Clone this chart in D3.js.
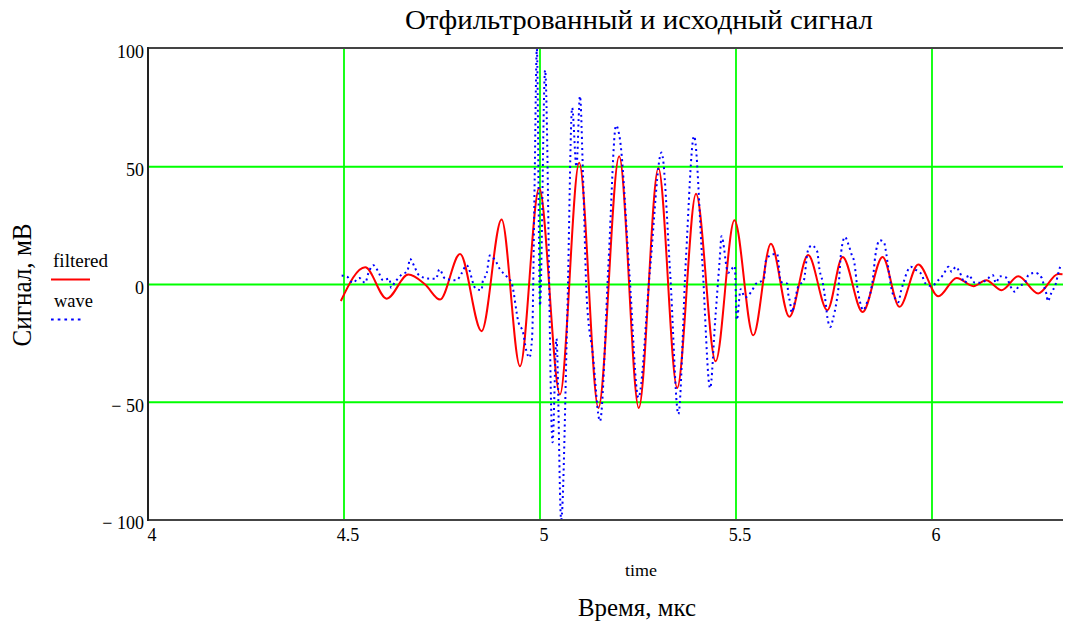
<!DOCTYPE html>
<html>
<head>
<meta charset="utf-8">
<script src="https://cdn.jsdelivr.net/npm/d3@7"></script>
<style>
  html, body { margin: 0; padding: 0; background: #fff; }
  svg { display: block; }
  text { font-family: "Liberation Serif", "Times New Roman", serif; fill: #000; }
</style>
</head>
<body>
<svg id="chart" width="1072" height="623"></svg>
<script>
// ---------- data ----------
const titleText = "Отфильтрованный и исходный сигнал";
const xTitle = "Время, мкс";
const xVarLabel = "time";
const yTitle = "Сигнал, мВ";
const legendNames = ["filtered", "wave"];
const xTicks = [4, 4.5, 5, 5.5, 6];
const yTicks = [-100, -50, 0, 50, 100];

// filtered signal: time (µs) and value (mV), read at extrema
const filteredT = [4.492, 4.554, 4.609, 4.664, 4.707, 4.745, 4.796, 4.851, 4.902, 4.949, 4.998, 5.051, 5.100, 5.149, 5.202, 5.252, 5.302, 5.350, 5.398, 5.448, 5.496, 5.544, 5.589, 5.636, 5.684, 5.733, 5.772, 5.823, 5.874, 5.917, 5.965, 6.016, 6.063, 6.106, 6.138, 6.178, 6.220, 6.271, 6.322, 6.333];
const filteredV = [-7, 7.3, -6, 4.2, 0, -6.4, 13, -19.8, 27.6, -34.7, 41, -46.7, 51.7, -52.4, 54.5, -52.4, 49.5, -43.9, 38.5, -32.6, 27.3, -21.6, 17.3, -13.7, 12.5, -10.9, 11.7, -11.7, 11.7, -9.5, 8.5, -5, 2.8, -0.7, 1.8, -2.4, 3.5, -3.8, 4.5, 4.4];

// original wave: time (µs) and value (mV)
const waveT = [4.494, 4.508, 4.522, 4.539, 4.554, 4.562, 4.575, 4.586, 4.600, 4.616, 4.620, 4.630, 4.647, 4.662, 4.668, 4.681, 4.690, 4.715, 4.735, 4.743, 4.758, 4.787, 4.800, 4.813, 4.836, 4.851, 4.854, 4.864, 4.872, 4.887, 4.898, 4.913, 4.928, 4.945, 4.957, 4.965, 4.973, 4.980, 4.986, 4.992, 5.000, 5.013, 5.032, 5.042, 5.054, 5.070, 5.082, 5.093, 5.102, 5.110, 5.119, 5.135, 5.153, 5.175, 5.194, 5.204, 5.228, 5.251, 5.280, 5.310, 5.332, 5.353, 5.372, 5.393, 5.414, 5.434, 5.447, 5.459, 5.463, 5.480, 5.497, 5.502, 5.512, 5.523, 5.540, 5.551, 5.571, 5.576, 5.591, 5.605, 5.614, 5.631, 5.633, 5.638, 5.642, 5.659, 5.673, 5.683, 5.693, 5.707, 5.713, 5.721, 5.730, 5.733, 5.741, 5.747, 5.757, 5.761, 5.768, 5.778, 5.786, 5.795, 5.802, 5.805, 5.808, 5.816, 5.825, 5.833, 5.842, 5.850, 5.855, 5.867, 5.878, 5.882, 5.889, 5.897, 5.908, 5.914, 5.921, 5.927, 5.946, 5.957, 5.974, 5.982, 5.999, 6.016, 6.029, 6.042, 6.050, 6.061, 6.070, 6.084, 6.093, 6.110, 6.122, 6.138, 6.155, 6.163, 6.173, 6.191, 6.199, 6.212, 6.220, 6.237, 6.246, 6.263, 6.280, 6.286, 6.293, 6.295, 6.305, 6.316, 6.322, 6.328];
const waveV = [3.8, 3.3, 0.7, 2.8, 0.7, 4.7, 8.2, 5.9, 1.8, 2.5, -1.4, 1.0, 4.2, 5.7, 10.9, 7.1, 4.2, 2.5, 2.4, 6.4, 2.5, 1.8, 4.7, 8.2, -1.8, -2.4, 1.4, 4.7, 12.3, 9.9, 6.4, 3.8, 0.4, -16, -20.5, -28, -31, -22, 40, 100, -9, 91, -67, -23, -100, -10, 75, 50, 80, 45, -5, -30, -58, 10, 67.5, 61.6, 5, -48, 5, 56, 5, -55, 10, 63, 10, -44, -15, 12, 20.5, 5, 7.8, -15, -2, -5.5, -2.8, 0.3, 2.1, 9.9, 12.7, 13, 1.1, 0.3, -3.5, -7.5, -11.8, -0.7, 1.7, 14.1, 16.6, 14.1, 6.4, 1.1, -9.5, -13.9, -18, -14.9, -6.8, -2.1, 13.4, 20.2, 17.4, 12.7, 9.2, 5.2, 0.7, -7.1, -10.9, -8.1, -4.2, 3.5, 11.7, 18.8, 17.7, 14.6, 6.4, -2.1, -6.4, -7.5, -2.8, 0.7, 7.5, 6.4, 4.2, 0.7, -0.7, 1.8, 4.2, 7.5, 5.4, 7.5, 5.4, 0.7, 4, 0.7, 0.7, 1.8, 4, 0.7, 3.5, 2.8, -0.4, -3.1, -1, 0.7, 4, 5, 2.8, -0.7, -5, -7.1, -3.3, 0.4, 4.7, 8.1];

// ---------- layout ----------
const svg = d3.select("#chart");
const mLeft = 148, mRight = 1063, mTop = 49, mBottom = 520;
const x = d3.scaleLinear().domain([4, 6.3342]).range([mLeft, mRight]);
const y = d3.scaleLinear().domain([-100, 100]).range([mBottom, mTop]);

function fitText(sel, len) {
  sel.attr("textLength", len).attr("lengthAdjust", "spacingAndGlyphs");
}

// grid
const gGrid = svg.append("g");
gGrid.selectAll("line.vx").data(xTicks.filter(d => d > 4)).join("line")
  .attr("x1", d => x(d)).attr("x2", d => x(d))
  .attr("y1", mTop).attr("y2", mBottom)
  .attr("stroke", "#00ff00").attr("stroke-width", 1.8);
gGrid.selectAll("line.hy").data(yTicks.filter(d => d > -100 && d < 100)).join("line")
  .attr("x1", mLeft).attr("x2", mRight)
  .attr("y1", d => y(d)).attr("y2", d => y(d))
  .attr("stroke", "#00ff00").attr("stroke-width", 1.8);

// series
const filtered = filteredT.map((t, i) => [t, filteredV[i]]);
const wave = waveT.map((t, i) => [t, waveV[i]]);
const line = d3.line().x(d => x(d[0])).y(d => y(d[1])).curve(d3.curveMonotoneX);

svg.append("clipPath").attr("id", "clip").append("rect")
  .attr("x", mLeft).attr("y", mTop - 1).attr("width", mRight - mLeft).attr("height", mBottom - mTop + 2);

svg.append("path").datum(filtered).attr("d", line)
  .attr("clip-path", "url(#clip)")
  .attr("fill", "none").attr("stroke", "#ff0000").attr("stroke-width", 2);
svg.append("path").datum(wave).attr("d", line)
  .attr("clip-path", "url(#clip)")
  .attr("fill", "none").attr("stroke", "#0000ff").attr("stroke-width", 2)
  .attr("stroke-dasharray", "2,3.5");

// frame
svg.append("line").attr("x1", mLeft).attr("x2", mRight).attr("y1", mTop - 1).attr("y2", mTop - 1)
  .attr("stroke", "#444").attr("stroke-width", 2);
svg.append("line").attr("x1", mLeft).attr("x2", mRight).attr("y1", mBottom).attr("y2", mBottom)
  .attr("stroke", "#444").attr("stroke-width", 2);
svg.append("line").attr("x1", mLeft).attr("x2", mLeft).attr("y1", mTop - 2).attr("y2", mBottom + 1)
  .attr("stroke", "#222").attr("stroke-width", 2);

// axes (labels only)
const yAxis = d3.axisLeft(y).tickValues(yTicks).tickSize(0).tickPadding(4)
  .tickFormat(d => d < 0 ? "\u2212 " + Math.abs(d) : String(d));
const gy = svg.append("g").attr("transform", `translate(${mLeft},0)`).call(yAxis);
gy.select(".domain").remove();
gy.selectAll("text").attr("font-family", "Liberation Serif, Times New Roman, serif")
  .attr("font-size", 18).attr("fill", "#000").attr("y", 3);

const xAxis = d3.axisBottom(x).tickValues(xTicks).tickSize(0).tickPadding(8)
  .tickFormat(d => String(d));
const gx = svg.append("g").attr("transform", `translate(0,${mBottom})`).call(xAxis);
gx.select(".domain").remove();
gx.selectAll("text").attr("font-family", "Liberation Serif, Times New Roman, serif")
  .attr("font-size", 18).attr("fill", "#000").attr("x", 3.5);

// titles
svg.append("text").attr("x", 639).attr("y", 29).attr("text-anchor", "middle")
  .attr("font-size", 28).text(titleText).call(fitText, 468);
svg.append("text").attr("x", 641).attr("y", 576).attr("text-anchor", "middle")
  .attr("font-size", 17).text(xVarLabel).call(fitText, 32);
svg.append("text").attr("x", 637).attr("y", 616).attr("text-anchor", "middle")
  .attr("font-size", 25).text(xTitle).call(fitText, 118);
svg.append("text").attr("transform", "translate(31,285) rotate(-90)").attr("text-anchor", "middle")
  .attr("font-size", 28).text(yTitle).call(fitText, 123);

// legend
svg.append("text").attr("x", 53).attr("y", 267).attr("font-size", 19).text(legendNames[0]).call(fitText, 55);
svg.append("line").attr("x1", 51).attr("x2", 90).attr("y1", 279.5).attr("y2", 279.5)
  .attr("stroke", "#ff0000").attr("stroke-width", 2);
svg.append("text").attr("x", 54).attr("y", 307).attr("font-size", 19).text(legendNames[1]).call(fitText, 39);
svg.append("line").attr("x1", 51).attr("x2", 83).attr("y1", 319.5).attr("y2", 319.5)
  .attr("stroke", "#0000ff").attr("stroke-width", 2).attr("stroke-dasharray", "2.7,4");
</script>
</body>
</html>
